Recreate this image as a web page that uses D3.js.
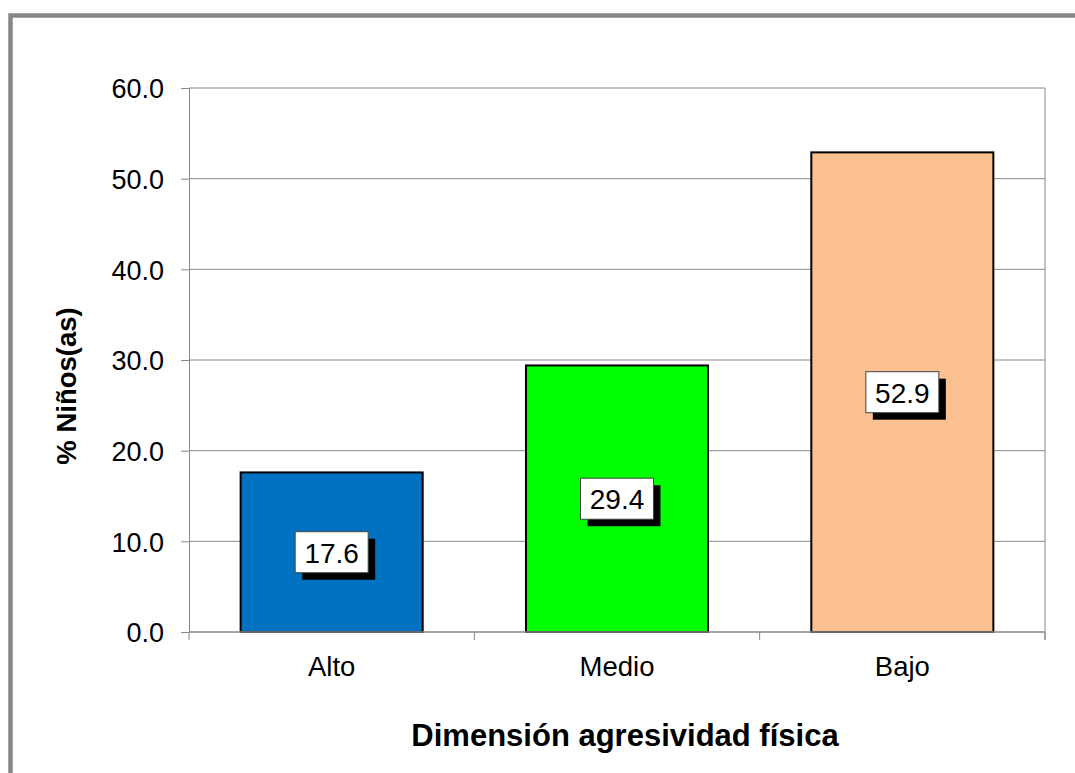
<!DOCTYPE html>
<html><head><meta charset="utf-8">
<script src="https://cdn.jsdelivr.net/npm/d3@7"></script>
<style>body{margin:0;background:#fff}svg{display:block}</style>
</head><body>
<script>
const categories = ["Alto", "Medio", "Bajo"];
const values = [17.6, 29.4, 52.9];
const colors = ["#0070C0", "#00FF00", "#FAC090"];
const yTicks = [0, 10, 20, 30, 40, 50, 60];
const xTitle = "Dimensión agresividad física";
const yTitle = "% Niños(as)";

(function () {
const W = 1075, H = 773;
const svg = d3.select("body").append("svg").attr("width", W).attr("height", H);
svg.append("rect").attr("width", W).attr("height", H).attr("fill", "#fff");
svg.append("rect").attr("x", 10.5).attr("y", 15.5).attr("width", W + 20).attr("height", H + 20)
  .attr("fill", "none").attr("stroke", "#888").attr("stroke-width", 4.5);

const pLeft = 189, pRight = 1045, pTop = 88, pBottom = 632;
const x = d3.scaleBand().domain(categories).range([pLeft, pRight]).paddingInner(0.362).paddingOuter(0.181);
const xb = d3.scaleBand().domain(categories).range([pLeft, pRight]);
const y = d3.scaleLinear().domain([0, 60]).range([pBottom, pTop]);

const font = "Arial, 'Liberation Sans', sans-serif";

// gridlines
svg.append("g").selectAll("line").data(yTicks.filter(d => d > 0)).join("line")
  .attr("x1", pLeft).attr("x2", pRight).attr("y1", d => y(d)).attr("y2", d => y(d))
  .attr("stroke", "#888").attr("stroke-width", 1);
svg.append("line").attr("x1", pRight).attr("x2", pRight).attr("y1", pTop).attr("y2", pBottom + 8)
  .attr("stroke", "#888");

// bars
svg.append("g").selectAll("rect").data(categories).join("rect")
  .attr("x", d => x(d)).attr("width", x.bandwidth())
  .attr("y", (d, i) => y(values[i])).attr("height", (d, i) => pBottom - y(values[i]))
  .attr("fill", (d, i) => colors[i]).attr("stroke", "#000").attr("stroke-width", 2);

// y axis
const yAxis = svg.append("g").attr("transform", `translate(${pLeft},0)`)
  .call(d3.axisLeft(y).tickValues(yTicks).tickFormat(d3.format(".1f")).tickSize(8).tickPadding(17));
yAxis.select(".domain").attr("stroke", "#888");
yAxis.selectAll(".tick line").attr("stroke", "#888");
yAxis.selectAll("text").attr("font-family", font).attr("font-size", 27).attr("fill", "#000").attr("dy", "0.36em");

// x axis
const xAxis = svg.append("g").attr("transform", `translate(0,${pBottom})`);
xAxis.append("line").attr("x1", pLeft).attr("x2", pRight).attr("stroke", "#888").attr("stroke-width", 1.5);
const bounds = categories.map(c => xb(c)).concat([pRight]);
xAxis.selectAll("line.t").data(bounds).join("line").attr("class", "t")
  .attr("x1", d => d).attr("x2", d => d).attr("y1", 0).attr("y2", 8).attr("stroke", "#888");
xAxis.selectAll("text").data(categories).join("text")
  .attr("x", d => xb(d) + xb.bandwidth() / 2).attr("y", 44)
  .attr("text-anchor", "middle").attr("font-family", font).attr("font-size", 27.5).text(d => d);

// data labels
const lbl = svg.append("g").selectAll("g").data(categories).join("g")
  .attr("transform", (d, i) => `translate(${x(d) + x.bandwidth() / 2},${(y(values[i]) + pBottom) / 2})`);
const bw = 73, bh = 41;
lbl.append("rect").attr("x", -bw / 2 + 7).attr("y", -bh / 2 + 7).attr("width", bw).attr("height", bh).attr("fill", "#000");
lbl.append("rect").attr("x", -bw / 2).attr("y", -bh / 2).attr("width", bw).attr("height", bh)
  .attr("fill", "#fff").attr("stroke", "#444").attr("stroke-width", 1);
lbl.append("text").attr("text-anchor", "middle").attr("dy", "0.38em")
  .attr("font-family", font).attr("font-size", 28).text((d, i) => d3.format(".1f")(values[i]));

// titles
svg.append("text").attr("x", 625).attr("y", 746).attr("text-anchor", "middle")
  .attr("font-family", font).attr("font-weight", "bold").attr("font-size", 31).text(xTitle);
svg.append("text").attr("transform", "translate(76,386) rotate(-90)").attr("text-anchor", "middle")
  .attr("font-family", font).attr("font-weight", "bold").attr("font-size", 27.5).text(yTitle);
})();
</script>
</body></html>
